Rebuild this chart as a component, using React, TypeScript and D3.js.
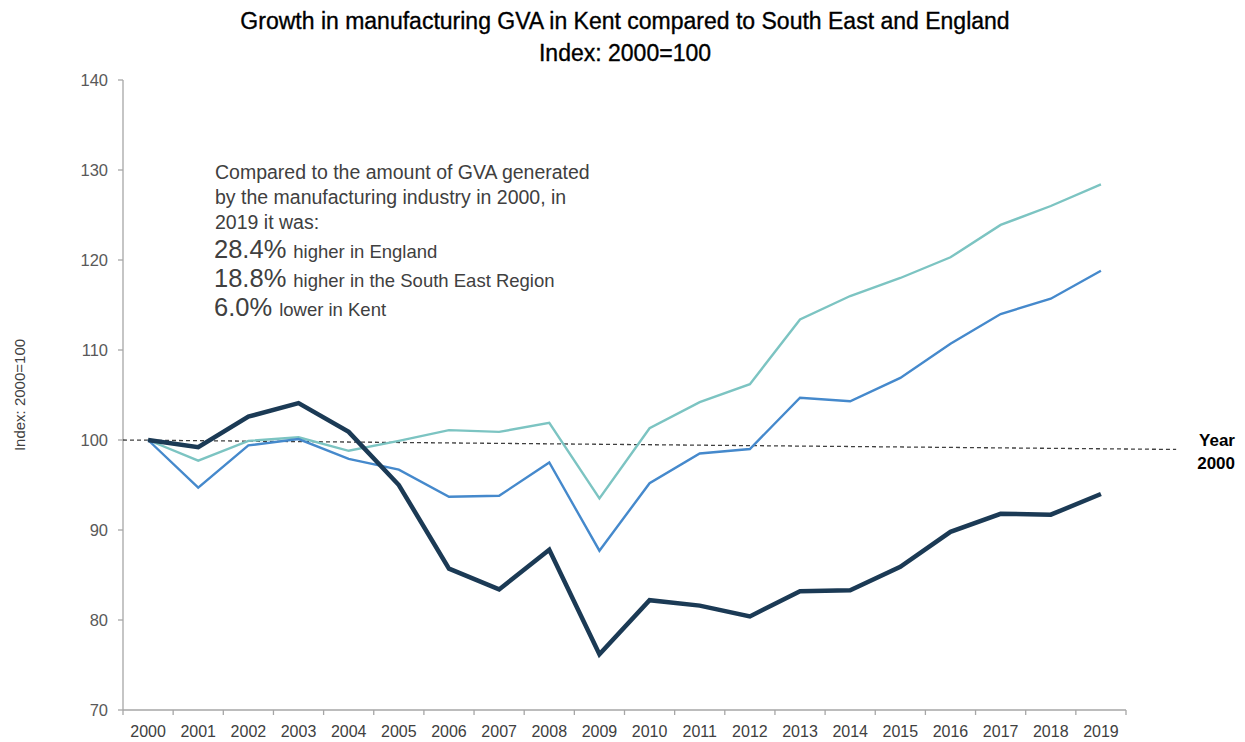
import React from "react";
import * as d3 from "d3";

const years = ["2000","2001","2002","2003","2004","2005","2006","2007","2008","2009","2010","2011","2012","2013","2014","2015","2016","2017","2018","2019"];
const kent = [100, 99.2, 102.6, 104.1, 100.9, 95.0, 85.7, 83.4, 87.8, 76.2, 82.2, 81.6, 80.4, 83.2, 83.3, 85.9, 89.8, 91.8, 91.7, 94.0];
const southEast = [100, 94.7, 99.4, 100.1, 97.9, 96.7, 93.7, 93.8, 97.5, 87.7, 95.2, 98.5, 99.0, 104.7, 104.3, 106.9, 110.7, 114.0, 115.7, 118.8];
const england = [100, 97.7, 99.9, 100.3, 98.8, 99.9, 101.1, 100.9, 101.9, 93.5, 101.3, 104.2, 106.2, 113.4, 116.0, 118.0, 120.3, 123.9, 126.0, 128.4];
const yTicks = [70, 80, 90, 100, 110, 120, 130, 140];
const baselineStart = { i: -0.5, v: 100 };
const baselineEnd = { i: 20.5, v: 98.95 };
const noteLines = [
  "Compared to the amount of GVA generated",
  "by the manufacturing industry in 2000, in",
  "2019 it was:",
];
const notePcts = [
  { pct: "28.4%", text: "higher in England" },
  { pct: "18.8%", text: "higher in the South East Region" },
  { pct: "6.0%", text: "lower in Kent" },
];

const W = 1245, H = 742;
const left = 123, right = 1126, top = 80, bottom = 710;

export default function App() {
  const x = d3.scaleLinear().domain([-0.5, years.length - 0.5]).range([left, right]);
  const y = d3.scaleLinear().domain([70, 140]).range([bottom, top]);
  const line = d3.line<number>().x((_, i) => x(i)).y((d) => y(d));
  const narrow = "'Liberation Sans Narrow', 'Arial Narrow', 'Liberation Sans', Arial, sans-serif";
  const sans = "'Liberation Sans', Arial, sans-serif";
  const axisColor = "#a6a6a6";
  const series = [
    { data: england, color: "#7cc4c2", w: 2.4 },
    { data: southEast, color: "#4589cc", w: 2.4 },
    { data: kent, color: "#1b3a55", w: 4.5 },
  ];
  return (
    <svg width={W} height={H} style={{ position: "absolute", left: 0, top: 0, background: "#fff" }}>
      <text x={625} y={29} textAnchor="middle" fontFamily={narrow} fontSize={23} fill="#000" stroke="#000" strokeWidth={0.35}>
        Growth in manufacturing GVA in Kent compared to South East and England
      </text>
      <text x={625} y={61} textAnchor="middle" fontFamily={narrow} fontSize={23} fill="#000" stroke="#000" strokeWidth={0.35}>
        Index: 2000=100
      </text>

      {/* y axis */}
      <line x1={left} x2={left} y1={y(140)} y2={y(70)} stroke={axisColor} strokeWidth={1.3} />
      {yTicks.map((t) => (
        <g key={t}>
          <line x1={left - 5} x2={left} y1={y(t)} y2={y(t)} stroke={axisColor} strokeWidth={1.3} />
          <text x={108} y={y(t) + 6} textAnchor="end" fontFamily={sans} fontSize={16.5} fill="#595959">{t}</text>
        </g>
      ))}
      <text transform={`translate(25,${395}) rotate(-90)`} textAnchor="middle" fontFamily={narrow} fontSize={15} fill="#404040">
        Index: 2000=100
      </text>

      {/* x axis */}
      <line x1={left} x2={right} y1={bottom} y2={bottom} stroke={axisColor} strokeWidth={1.5} />
      {d3.range(years.length + 1).map((k) => (
        <line key={k} x1={x(k - 0.5)} x2={x(k - 0.5)} y1={bottom} y2={bottom + 5} stroke={axisColor} strokeWidth={1.3} />
      ))}
      {years.map((yr, i) => (
        <text key={yr} x={x(i)} y={737} textAnchor="middle" fontFamily={narrow} fontSize={16} fill="#404040">{yr}</text>
      ))}

      {/* baseline */}
      <line x1={x(baselineStart.i)} y1={y(baselineStart.v)} x2={x(baselineEnd.i)} y2={y(baselineEnd.v)}
        stroke="#404040" strokeWidth={1.3} strokeDasharray="4,3" />
      <text x={1235} y={446} textAnchor="end" fontFamily={sans} fontSize={17} fontWeight="bold" fill="#000">Year</text>
      <text x={1235} y={469} textAnchor="end" fontFamily={sans} fontSize={17} fontWeight="bold" fill="#000">2000</text>

      {series.map((s, k) => (
        <path key={k} d={line(s.data) || ""} fill="none" stroke={s.color} strokeWidth={s.w} strokeLinejoin="miter" />
      ))}

      {/* annotation */}
      {noteLines.map((l, i) => (
        <text key={i} x={215} y={179 + i * 25} fontFamily={sans} fontSize={19.5} fill="#404040">{l}</text>
      ))}
      {notePcts.map((p, i) => (
        <text key={i} x={214} y={258 + i * 29} fontFamily={sans} fill="#404040">
          <tspan fontSize={25.5}>{p.pct}</tspan>
          <tspan fontSize={18.5} dx={7}>{p.text}</tspan>
        </text>
      ))}
    </svg>
  );
}
